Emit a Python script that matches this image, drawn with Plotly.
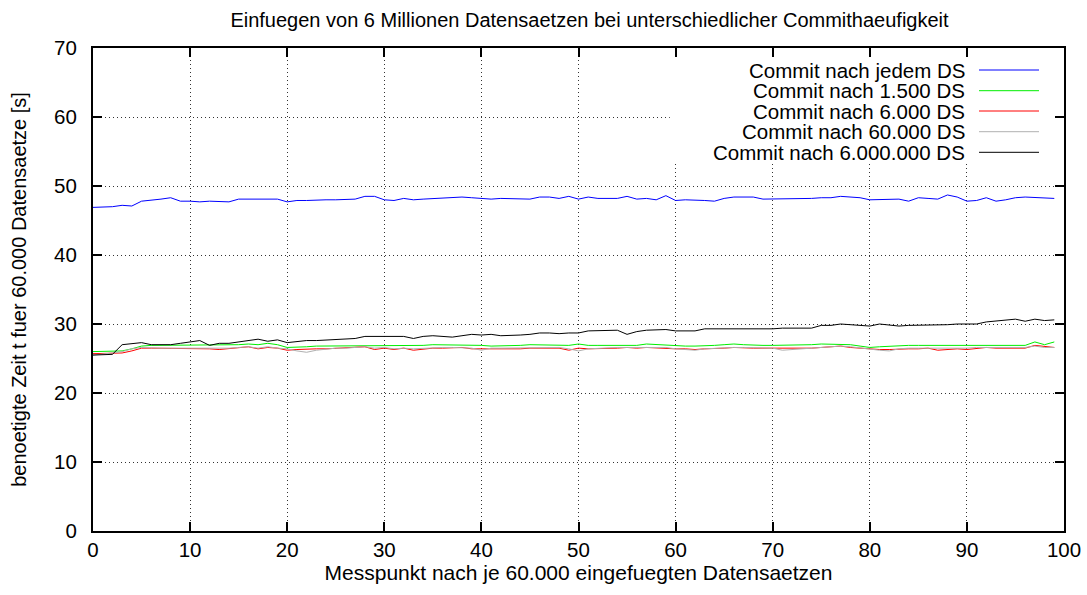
import plotly.graph_objects as go

x_vals = list(range(100))

names = ["Commit nach jedem DS", "Commit nach 1.500 DS", "Commit nach 6.000 DS",
         "Commit nach 60.000 DS", "Commit nach 6.000.000 DS"]
colors = ["#0000ff", "#00ee00", "#ff0000", "#b0b0b0", "#000000"]

jedem = [46.9, 46.9, 47.0, 47.2, 47.1, 47.8, 47.9, 48.1, 48.3, 47.8,
         47.8, 47.7, 47.8, 47.8, 47.7, 48.1, 48.1, 48.1, 48.0, 48.1,
         47.7, 47.9, 47.9, 48.0, 48.0, 48.0, 48.1, 48.1, 48.5, 48.5,
         48.0, 47.9, 48.2, 48.0, 48.1, 48.2, 48.2, 48.3, 48.4, 48.3,
         48.2, 48.1, 48.2, 48.2, 48.1, 48.1, 48.4, 48.4, 48.2, 48.5,
         48.1, 48.4, 48.2, 48.2, 48.2, 48.5, 48.1, 48.2, 48.0, 48.6,
         47.9, 48.0, 48.0, 47.9, 47.8, 48.2, 48.4, 48.4, 48.4, 48.1,
         48.1, 48.1, 48.1, 48.1, 48.2, 48.3, 48.3, 48.5, 48.4, 48.3,
         48.0, 48.0, 48.0, 48.1, 47.8, 48.3, 48.2, 48.1, 48.7, 48.4,
         47.8, 47.9, 48.3, 47.8, 48.0, 48.3, 48.4, 48.3, 48.2, 48.2]

n1500 = [26.0, 26.0, 26.0, 26.1, 26.4, 26.8, 26.9, 26.9, 26.9, 26.9,
         26.9, 26.9, 26.9, 26.9, 27.0, 27.0, 27.1, 27.0, 27.2, 27.0,
         26.6, 26.6, 26.7, 26.8, 26.8, 26.8, 26.9, 26.9, 26.9, 26.9,
         26.9, 26.8, 26.9, 26.9, 26.9, 27.0, 27.0, 27.0, 26.9, 26.9,
         26.9, 26.8, 26.8, 26.9, 26.9, 27.0, 27.0, 26.9, 26.9, 26.9,
         27.1, 26.9, 26.9, 26.9, 26.9, 27.0, 26.9, 27.1, 27.0, 26.9,
         26.8, 26.8, 26.8, 26.8, 26.9, 27.0, 27.1, 27.0, 26.9, 26.9,
         26.9, 26.9, 26.9, 26.9, 27.0, 27.1, 27.1, 27.1, 27.0, 26.8,
         26.6, 26.7, 26.8, 26.8, 26.9, 26.9, 26.9, 26.9, 26.9, 26.9,
         26.9, 26.9, 27.0, 26.9, 26.9, 26.9, 26.9, 27.4, 27.0, 27.4]

n6000 = [25.7, 25.7, 25.7, 25.8, 26.1, 26.5, 26.5, 26.5, 26.5, 26.4,
         26.4, 26.4, 26.4, 26.3, 26.4, 26.5, 26.7, 26.4, 26.6, 26.5,
         26.2, 26.3, 26.4, 26.4, 26.4, 26.5, 26.5, 26.6, 26.7, 26.3,
         26.5, 26.3, 26.5, 26.2, 26.4, 26.5, 26.5, 26.6, 26.6, 26.4,
         26.4, 26.3, 26.4, 26.4, 26.4, 26.5, 26.5, 26.5, 26.5, 26.2,
         26.5, 26.4, 26.4, 26.5, 26.5, 26.6, 26.5, 26.6, 26.5, 26.5,
         26.4, 26.4, 26.3, 26.4, 26.4, 26.5, 26.6, 26.5, 26.5, 26.5,
         26.5, 26.4, 26.4, 26.4, 26.5, 26.6, 26.7, 26.8, 26.6, 26.5,
         26.3, 26.3, 26.3, 26.4, 26.4, 26.4, 26.5, 26.2, 26.3, 26.4,
         26.3, 26.5, 26.6, 26.5, 26.5, 26.5, 26.5, 26.9, 26.7, 26.6]

n60000 = [25.5, 25.6, 25.8, 26.0, 26.4, 26.6, 26.5, 26.5, 26.5, 26.5,
          26.5, 26.5, 26.4, 26.5, 26.5, 26.6, 26.7, 26.5, 26.7, 26.5,
          26.4, 26.1, 25.9, 26.2, 26.4, 26.5, 26.5, 26.6, 26.7, 26.5,
          26.6, 26.4, 26.5, 26.4, 26.5, 26.5, 26.6, 26.6, 26.6, 26.5,
          26.2, 26.5, 26.5, 26.5, 26.5, 26.6, 26.6, 26.6, 26.6, 26.4,
          26.1, 26.4, 26.5, 26.5, 26.6, 26.6, 26.6, 26.6, 26.6, 26.6,
          26.4, 26.3, 26.2, 26.4, 26.5, 26.5, 26.6, 26.6, 26.6, 26.6,
          26.5, 26.2, 26.3, 26.5, 26.5, 26.7, 26.8, 26.8, 26.7, 26.5,
          26.3, 26.2, 26.1, 26.4, 26.5, 26.5, 26.5, 26.4, 26.4, 26.5,
          26.5, 26.6, 26.6, 26.6, 26.6, 26.6, 26.6, 26.8, 26.6, 26.6]

n6000000 = [25.5, 25.6, 25.6, 27.0, 27.1, 27.3, 27.0, 27.0, 27.0, 27.2,
            27.4, 27.6, 26.9, 27.2, 27.2, 27.4, 27.7, 27.8, 27.5, 27.7,
            27.3, 27.5, 27.6, 27.6, 27.7, 27.7, 27.9, 27.9, 28.2, 28.2,
            28.1, 28.2, 28.2, 27.9, 28.2, 28.3, 28.2, 28.1, 28.3, 28.5,
            28.4, 28.5, 28.3, 28.3, 28.4, 28.5, 28.7, 28.7, 28.6, 28.7,
            28.7, 29.0, 29.0, 29.0, 29.1, 28.5, 28.9, 29.1, 29.1, 29.2,
            29.0, 29.0, 29.0, 29.3, 29.3, 29.2, 29.2, 29.2, 29.2, 29.2,
            29.3, 29.4, 29.4, 29.4, 29.4, 29.8, 29.8, 30.0, 29.9, 29.7,
            29.7, 30.0, 29.8, 29.7, 29.8, 29.8, 29.9, 29.9, 29.9, 30.0,
            30.0, 30.0, 30.3, 30.4, 30.5, 30.7, 30.4, 30.7, 30.5, 30.6]

series = [jedem, n1500, n6000, n60000, n6000000]

x_ticks = [0, 10, 20, 30, 40, 50, 60, 70, 80, 90, 100]
y_ticks = [0, 10, 20, 30, 40, 50, 60, 70]

title_text = "Einfuegen von 6 Millionen Datensaetzen bei unterschiedlicher Commithaeufigkeit"
x_title = "Messpunkt nach je 60.000 eingefuegten Datensaetzen"
y_title = "benoetigte Zeit t fuer 60.000 Datensaetze [s]"

FONT = "Liberation Sans, Arial, Helvetica, sans-serif"
FS = 20.5

fig = go.Figure()
for name, col, vals in zip(names, colors, series):
    fig.add_trace(go.Scatter(x=x_vals, y=vals, mode="lines", name=name,
                             line=dict(color=col, width=1), showlegend=False))

W, H = 1087, 595
PL, PR, PT, PB = 93, 1064, 48, 531          # plot area in page pixels
L, T, R, B = PL, PT, W - PR, H - PB
pw, ph = PR - PL, PB - PT

# gnuplot-style key: right-aligned text with the line sample to the right
row_y = [70, 90.7, 111, 131.7, 152.3]
for name, col, py in zip(names, colors, row_y):
    yp = (PB - py) / ph
    fig.add_annotation(x=(967 - PL) / pw, y=yp, xref="paper", yref="paper",
                       text=name, showarrow=False, xanchor="right", yanchor="middle",
                       font=dict(family=FONT, size=20.5, color="black"))
    fig.add_shape(type="line", xref="paper", yref="paper",
                  x0=(979 - PL) / pw, x1=(1039 - PL) / pw, y0=yp, y1=yp,
                  line=dict(color=col, width=1))

# key box clears the grid behind it
fig.add_shape(type="rect", xref="x", yref="y", x0=59.4, x1=100, y0=53.3, y1=70,
              fillcolor="white", line=dict(width=0), layer="between")

axis_common = dict(showline=True, linecolor="black", linewidth=2, mirror="ticks",
                   ticks="inside", ticklen=9, tickwidth=1.5, tickcolor="black",
                   showgrid=True, gridcolor="#333333", griddash="1px,3px", gridwidth=1,
                   zeroline=False, automargin=False,
                   tickfont=dict(family=FONT, size=FS, color="black"))

fig.update_xaxes(range=[0, 100], tickvals=x_ticks, title_text=x_title,
                 title_standoff=6, ticklabelstandoff=-1,
                 title_font=dict(family=FONT, size=21, color="black"), **axis_common)
fig.update_yaxes(range=[0, 70], tickvals=y_ticks, title_text=y_title,
                 title_standoff=22, ticklabelstandoff=10,
                 title_font=dict(family=FONT, size=20, color="black"), **axis_common)

fig.update_layout(
    width=W, height=H,
    margin=dict(l=L, r=R, t=T, b=B),
    paper_bgcolor="white", plot_bgcolor="white",
    title=dict(text=title_text, x=(589.5 - PL) / pw, xref="paper", xanchor="center",
               y=1 - 20 / H, yref="container",
               yanchor="middle", font=dict(family=FONT, size=20, color="black")),
    showlegend=False,
    hovermode=False,
)

# drop the browser's default 8px body margin so the figure fills the window exactly
fig.write_html("out.html", config={"displayModeBar": False},
               post_script="document.body.style.margin='0';")
